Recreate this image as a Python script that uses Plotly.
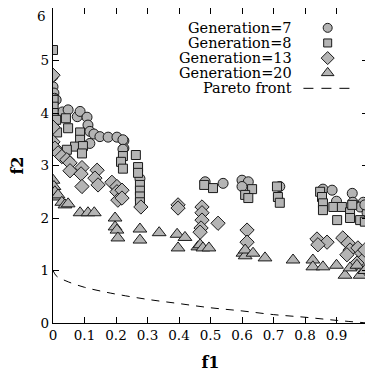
import plotly.graph_objects as go

# ---------------- data ----------------
gen7_x = [0, 0, 0.003, 0.005, 0.01, 0.03, 0.048, 0.077, 0.086, 0.108, 0.111, 0.117, 0.117,
          0.13, 0.149, 0.175, 0.203, 0.225, 0.225, 0.222, 0.222, 0.276,
          0.483, 0.54, 0.60, 0.62, 0.60, 0.72, 0.857, 0.886, 0.95, 0.952, 0.90, 0.985,
          0.975, 0.997, 0.997, 0.99]
gen7_y = [4.70, 4.50, 4.38, 4.28, 4.25, 4.02, 4.06, 3.93, 4.03, 3.92, 3.77, 3.65, 3.42,
          3.60, 3.55, 3.54, 3.54, 3.47, 3.33, 3.49, 3.31, 2.75,
          2.69, 2.66, 2.72, 2.69, 2.60, 2.60, 2.55, 2.53, 2.47, 2.30, 2.32, 2.30,
          2.21, 2.19, 2.10, 2.25]

gen8_x = [0, 0.002, 0.002, 0.002, 0.01, 0.041, 0.048, 0.013, 0.086, 0.086, 0.07, 0.095,
          0.044, 0.092, 0.222, 0.263, 0.216, 0.222, 0.27, 0.27, 0.276, 0.276, 0.276, 0.276,
          0.48, 0.508, 0.632, 0.61, 0.62, 0.711, 0.714, 0.72, 0.848, 0.854, 0.857, 0.857,
          0.89, 0.917, 0.902, 0.943, 0.943, 0.975, 0.99, 0.95]
gen8_y = [5.20, 4.25, 4.12, 4.00, 3.87, 3.90, 3.71, 3.63, 3.63, 3.49, 3.36, 3.37,
          3.30, 3.23, 3.18, 3.20, 3.07, 2.94, 2.97, 2.86, 2.63, 2.52, 2.41, 2.30,
          2.63, 2.57, 2.55, 2.44, 2.38, 2.60, 2.40, 2.29, 2.50, 2.40, 2.28, 2.15,
          2.21, 2.21, 1.96, 2.11, 2.00, 1.96, 1.93, 2.25]

gen13_x = [0, 0, 0, 0.006, 0.016, 0.028, 0.044, 0.054, 0.054, 0.092, 0.089, 0.14, 0.133,
           0.143, 0.092, 0.187, 0.203, 0.203, 0.206, 0.219, 0.219, 0.279, 0.397, 0.397,
           0.473, 0.473, 0.473, 0.47, 0.467, 0.524, 0.616, 0.616, 0.838, 0.87, 0.841,
           0.92, 0.937, 0.943, 0.933, 0.968, 0.98, 0.984, 0.99, 0.965]
gen13_y = [4.72, 3.73, 3.45, 3.33, 3.24, 3.17, 3.11, 3.05, 2.90, 2.96, 2.84, 2.91, 2.76,
           2.63, 2.60, 2.68, 2.60, 2.50, 2.34, 2.53, 2.38, 2.21, 2.25, 2.19,
           2.21, 2.10, 1.96, 1.81, 1.73, 1.90, 1.77, 1.54, 1.60, 1.54, 1.49,
           1.62, 1.52, 1.39, 1.30, 1.43, 1.33, 1.20, 1.39, 1.14]

gen20_x = [0, 0.003, 0.006, 0.013, 0.016, 0.028, 0.038, 0.048, 0.086, 0.111, 0.131, 0.197,
           0.197, 0.203, 0.206, 0.276, 0.276, 0.337, 0.394, 0.419, 0.397, 0.46, 0.467,
           0.476, 0.495, 0.603, 0.61, 0.61, 0.635, 0.673, 0.762, 0.825, 0.825, 0.857,
           0.90, 0.927, 0.943, 0.965, 0.975, 0.99]
gen20_y = [2.72, 2.60, 2.50, 2.40, 2.44, 2.30, 2.25, 2.27, 2.10, 2.10, 2.10, 2.00,
           1.83, 1.77, 1.62, 1.79, 1.58, 1.72, 1.69, 1.63, 1.43, 1.45, 1.49,
           1.43, 1.43, 1.33, 1.28, 1.39, 1.33, 1.24, 1.20, 1.20, 1.07, 1.07,
           1.10, 0.91, 1.05, 1.10, 0.91, 1.00]

pareto_x = [0, 0.01, 0.02, 0.05, 0.1, 0.15, 0.2, 0.3, 0.4, 0.5, 0.6, 0.7, 0.8, 0.9, 1.0]
pareto_y = [1.0, 0.90, 0.86, 0.78, 0.68, 0.61, 0.55, 0.45, 0.37, 0.29, 0.23, 0.16, 0.11, 0.05, 0.0]

legend_labels = ["Generation=7", "Generation=8", "Generation=13", "Generation=20", "Pareto front"]
x_ticks = [0, 0.1, 0.2, 0.3, 0.4, 0.5, 0.6, 0.7, 0.8, 0.9, 1]
x_tick_text = ["0", "0.1", "0.2", "0.3", "0.4", "0.5", "0.6", "0.7", "0.8", "0.9", "1"]
y_ticks = [0, 1, 2, 3, 4, 5, 6]
y_tick_text = ["0", "1", "2", "3", "4", "5", ""]   # top label "6" drawn just below the border
top_y_label = "6"

# ---------------- style ----------------
FILL = "#b4b4b4"
EDGE = "#1a1a1a"
FONT = "DejaVu Serif"

series = [
    (gen7_x, gen7_y, "circle", 10),
    (gen8_x, gen8_y, "square", 9),
    (gen13_x, gen13_y, "diamond", 11),
    (gen20_x, gen20_y, "triangle-up", 12),
]

fig = go.Figure()
for (xs, ys, sym, sz), name in zip(series, legend_labels[:4]):
    fig.add_trace(go.Scatter(
        x=xs, y=ys, mode="markers", name=name, showlegend=False,
        marker=dict(symbol=sym, size=sz, color=FILL, line=dict(color=EDGE, width=1)),
    ))

fig.add_trace(go.Scatter(
    x=pareto_x, y=pareto_y, mode="lines", name=legend_labels[4], showlegend=False,
    line=dict(color="black", width=1, dash="8px,7px", shape="spline"),
))

# ---------------- custom legend (text left, key right) ----------------
row_y = [0.937, 0.889, 0.841, 0.794, 0.745]
key_x = 0.872
text_x = 0.764
for (xs, ys, sym, sz), yy in zip(series, row_y[:4]):
    fig.add_trace(go.Scatter(
        x=[key_x], y=[yy], xaxis="x2", yaxis="y2", mode="markers", showlegend=False,
        hoverinfo="skip",
        marker=dict(symbol=sym, size=sz - 1, color=FILL, line=dict(color=EDGE, width=1)),
    ))
for label, yy in zip(legend_labels, row_y):
    fig.add_annotation(x=text_x, y=yy, xref="paper", yref="paper", text=label,
                       showarrow=False, xanchor="right", yanchor="middle", height=14,
                       font=dict(family=FONT, size=14.5, color="black"))
fig.add_shape(type="line", xref="paper", yref="paper", x0=0.795, x1=0.945,
              y0=row_y[4], y1=row_y[4], line=dict(color="black", width=1, dash="10px,8px"))

fig.add_annotation(x=0, y=1, xref="paper", yref="paper", text=top_y_label,
                   showarrow=False, xanchor="right", yanchor="middle",
                   xshift=-5, yshift=-8,
                   font=dict(family=FONT, size=13.5, color="black"))

axis_common = dict(
    showline=True, linecolor="black", linewidth=1.3, mirror="ticks",
    ticks="inside", ticklen=6, tickwidth=1, tickcolor="black",
    showgrid=False, zeroline=False, automargin=False,
    ticklabeloverflow="allow",
    tickfont=dict(family=FONT, size=13.5, color="black"),
)

# the page adds an 8px body margin, so the figure is 8px smaller than the window
fig.update_layout(
    width=365, height=364,
    margin=dict(l=45, r=5, t=0, b=49),
    paper_bgcolor="white", plot_bgcolor="white",
    xaxis=dict(range=[0, 1], tickvals=x_ticks, ticktext=x_tick_text,
               title=dict(text="<b>f1</b>", font=dict(family=FONT, size=16, color="black"),
                          standoff=17),
               **axis_common),
    yaxis=dict(range=[0, 6], tickvals=y_ticks, ticktext=y_tick_text,
               title=dict(text="<b>f2</b>", font=dict(family=FONT, size=16, color="black"),
                          standoff=16),
               **axis_common),
    xaxis2=dict(range=[0, 1], overlaying="x", visible=False, fixedrange=True),
    yaxis2=dict(range=[0, 1], overlaying="y", visible=False, fixedrange=True),
    showlegend=False,
)

fig.write_html("out.html")
